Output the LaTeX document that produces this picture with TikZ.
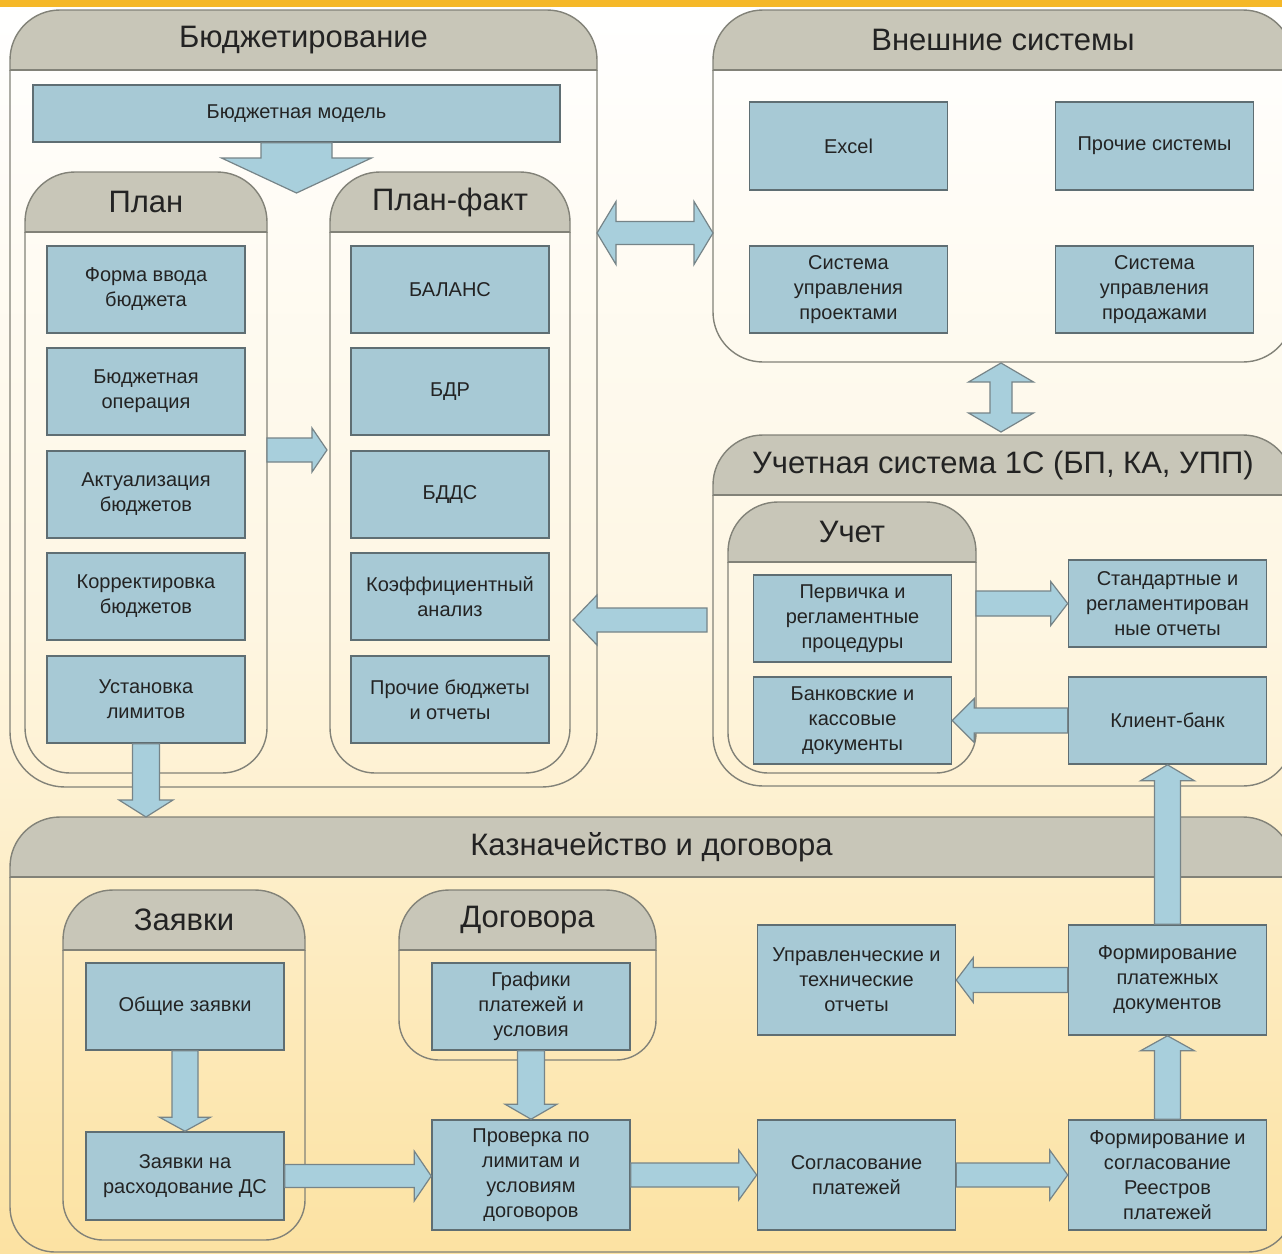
\documentclass[tikz,border=0pt]{standalone}
\usepackage{fontspec}
\setmainfont{Liberation Sans}
\usetikzlibrary{calc}
\definecolor{boxfill}{RGB}{167,201,213}
\definecolor{boxline}{RGB}{95,110,115}
\definecolor{arrfill}{RGB}{168,207,220}
\definecolor{arrline}{RGB}{118,132,136}
\definecolor{hdrfill}{RGB}{200,198,184}
\definecolor{panline}{RGB}{130,130,120}
\definecolor{txt}{RGB}{35,35,35}
\definecolor{band}{RGB}{245,184,40}
\definecolor{bgbot}{RGB}{252,226,162}
\definecolor{bgmid}{RGB}{254,246,226}
\tikzset{
  panelline/.style={draw=panline, line width=1.4pt},
  hdr/.style={draw=panline, fill=hdrfill, line width=1.4pt},
  title/.style={font=\fontsize{31}{36}\selectfont, text=txt, inner sep=0pt},
  box/.style={draw=boxline, fill=boxfill, line width=1.6pt, text=txt,
    font=\fontsize{20}{25}\selectfont, align=center, inner sep=0pt,
    minimum width=198pt, minimum height=87pt},
  arr/.style={fill=arrfill, draw=arrline, line width=1.2pt, line join=miter},
}
\newcommand\panel[7]{%
  \begin{scope}
    \clip (#2-5,#3+60) rectangle (#4+5,#5+5);
    \draw[panelline, rounded corners=#6] (#2,#3-100) rectangle (#4,#5);
  \end{scope}
  \begin{scope}
    \clip (#2-5,#3-5) rectangle (#4+5,#3+60);
    \draw[hdr, rounded corners=50] (#2,#3) rectangle (#4,#3+150);
  \end{scope}
  \draw[panelline] (#2,#3+60) -- (#4,#3+60);
  \node[title] (#1) at ({(#2+#4)/2},#3+30) {#7};
}
\newcommand\sarrow[5]{%
  \path ($(#2)!#5!(#1)$) coordinate (hB);
  \draw[arr] ($(#1)!#3!90:(#2)$) -- ($(hB)!#3!90:(#2)$) -- ($(hB)!#4!90:(#2)$) -- (#2)
    -- ($(hB)!#4!-90:(#2)$) -- ($(hB)!#3!-90:(#2)$) -- ($(#1)!#3!-90:(#2)$) -- cycle;
}
\newcommand\darrow[5]{%
  \path ($(#1)!#5!(#2)$) coordinate (hA) ($(#2)!#5!(#1)$) coordinate (hB);
  \draw[arr] (#1) -- ($(hA)!#4!90:(#2)$) -- ($(hA)!#3!90:(#2)$) -- ($(hB)!#3!90:(#2)$)
    -- ($(hB)!#4!90:(#2)$) -- (#2) -- ($(hB)!#4!-90:(#2)$) -- ($(hB)!#3!-90:(#2)$)
    -- ($(hA)!#3!-90:(#2)$) -- ($(hA)!#4!-90:(#2)$) -- cycle;
}
\begin{document}
\begin{tikzpicture}[x=1pt,y=-1pt]
\useasboundingbox (0,0) rectangle (1282,1253);
\clip (0,0) rectangle (1282,1253);
\shade[top color=white, bottom color=bgbot, middle color=bgmid] (0,0) rectangle (1282,1253);
\fill[band] (0,0) rectangle (1282,7);

% panels
\panel{bud}{10}{10}{597}{787}{55}{Бюджетирование}
\panel{plan}{25}{172}{267}{773}{45}{План}
\panel{pf}{330}{172}{570}{773}{45}{План-факт}
\panel{ext}{713}{10}{1293}{362}{50}{Внешние системы}
\panel{acc}{713}{435}{1293}{786}{50}{Учетная система 1С (БП, КА, УПП)}
\panel{uch}{728}{502}{976}{773}{40}{Учет}
\panel{kaz}{10}{817}{1293}{1252}{45}{Казначейство и договора}
\panel{zay}{63}{890}{305}{1240}{40}{Заявки}
\panel{dog}{399}{890}{656}{1060}{40}{Договора}

% boxes
\node[box, minimum width=527pt, minimum height=57pt] (bm) at (296.5,113.5) {Бюджетная модель};
\node[box] (p1) at (146,289.5) {Форма ввода\\бюджета};
\node[box] (p2) at (146,391.5) {Бюджетная\\операция};
\node[box] (p3) at (146,494.5) {Актуализация\\бюджетов};
\node[box] (p4) at (146,596.5) {Корректировка\\бюджетов};
\node[box] (ust) at (146,699.5) {Установка\\лимитов};
\node[box] (f1) at (450,289.5) {БАЛАНС};
\node[box] (f2) at (450,391.5) {БДР};
\node[box] (f3) at (450,494.5) {БДДС};
\node[box] (f4) at (450,596.5) {Коэффициентный\\анализ};
\node[box] (f5) at (450,699.5) {Прочие бюджеты\\и отчеты};
\node[box, minimum height=88pt] (xl) at (848.5,146) {Excel};
\node[box, minimum height=88pt] (oth) at (1154.5,146) {Прочие системы};
\node[box] (spr) at (848.5,289.5) {Система\\управления\\проектами};
\node[box] (ssl) at (1154.5,289.5) {Система\\управления\\продажами};
\node[box] (prv) at (852.5,618.5) {Первичка и\\регламентные\\процедуры};
\node[box] (bank) at (852.5,720.5) {Банковские и\\кассовые\\документы};
\node[box] (std) at (1167.5,603.5) {Стандартные и\\регламентирован\\ные отчеты};
\node[box] (kb) at (1167.5,720.5) {Клиент-банк};
\node[box] (obsh) at (185,1006.5) {Общие заявки};
\node[box, minimum height=88pt] (zns) at (185,1176) {Заявки на\\расходование ДС};
\node[box] (graf) at (531,1006.5) {Графики\\платежей и\\условия};
\node[box, minimum height=110pt] (prov) at (531,1175) {Проверка по\\лимитам и\\условиям\\договоров};
\node[box, minimum height=110pt] (sogl) at (856.5,1175) {Согласование\\платежей};
\node[box, minimum height=110pt] (reestr) at (1167.5,1175) {Формирование и\\согласование\\Реестров\\платежей};
\node[box, minimum height=110pt] (fpd) at (1167.5,980) {Формирование\\платежных\\документов};
\node[box, minimum height=110pt] (upr) at (856.5,980) {Управленческие и\\технические\\отчеты};

% connector end points
\coordinate (bmtip) at (296.5,193);
\coordinate (ppA) at (267,450);
\coordinate (ppB) at (327,450);
\coordinate (beA) at (597,233);
\coordinate (beB) at (713,233);
\coordinate (eaA) at (1001,363);
\coordinate (eaB) at (1001,432);
\coordinate (apA) at (707,620);
\coordinate (apB) at (573,620);
\coordinate (psA) at (976,603.5);
\coordinate (ukz) at (146,817);

% arrows
\sarrow{bm.south}{bmtip}{35.5pt}{75pt}{35pt}
\sarrow{ppA}{ppB}{12pt}{22pt}{15pt}
\darrow{beA}{beB}{11.5pt}{31.5pt}{19pt}
\darrow{eaA}{eaB}{11pt}{32.5pt}{19pt}
\sarrow{apA}{apB}{12pt}{25pt}{24pt}
\sarrow{psA}{std.west}{12.5pt}{22pt}{17pt}
\sarrow{kb.west}{bank.east}{12.5pt}{22pt}{22pt}
\sarrow{ust.south}{ukz}{13.5pt}{27pt}{17pt}
\sarrow{obsh.south}{zns.north}{13pt}{25.5pt}{14pt}
\sarrow{zns.east}{prov.west |- zns.east}{11.5pt}{25pt}{17pt}
\sarrow{graf.south}{prov.north}{13.5pt}{26pt}{15pt}
\sarrow{prov.east}{sogl.west}{12pt}{25pt}{18pt}
\sarrow{sogl.east}{reestr.west}{12pt}{25pt}{18pt}
\sarrow{reestr.north}{fpd.south}{13pt}{27pt}{15pt}
\sarrow{fpd.north}{kb.south}{13pt}{27pt}{16pt}
\sarrow{fpd.west}{upr.east}{12.5pt}{22.5pt}{17pt}
\end{tikzpicture}
\end{document}
